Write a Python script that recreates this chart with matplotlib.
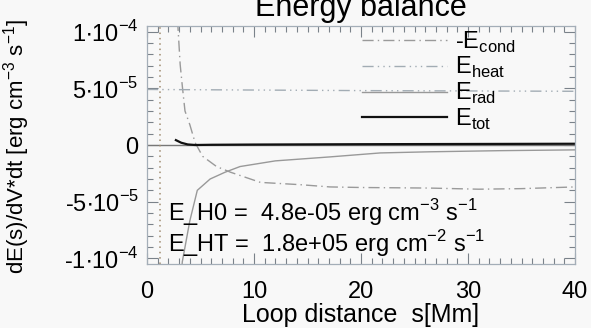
import numpy as np
import matplotlib
matplotlib.use('Agg')
import matplotlib.pyplot as plt
from matplotlib.ticker import MultipleLocator, FixedLocator, FixedFormatter

plt.rcParams['font.family'] = ['Liberation Sans', 'DejaVu Sans']
plt.rcParams['mathtext.fontset'] = 'custom'
plt.rcParams['mathtext.rm'] = 'Liberation Sans'

# values (s in Mm, energies in erg cm^-3 s^-1)
s_cond = [2.7, 2.9, 3.1, 3.3, 3.55, 4.0, 4.5, 5.2, 6.5, 7.8, 10.6, 14.3, 17.1, 20.0, 26.4, 31.0, 35.0, 40.0]
e_cond = [1.4e-4, 1.03e-4, 7.1e-5, 5.2e-5, 3.0e-5, 1.8e-5, 2.0e-6, -1.0e-5, -1.9e-5, -2.4e-5,
          -3.3e-5, -3.5e-5, -3.7e-5, -3.75e-5, -3.8e-5, -3.9e-5, -3.85e-5, -3.7e-5]

s_heat = [0.0, 10.0, 20.0, 30.0, 40.0]
e_heat = [4.9e-5, 4.85e-5, 4.8e-5, 4.77e-5, 4.74e-5]

s_rad = [3.2, 3.3, 4.0, 4.7, 5.9, 7.3, 8.7, 12.0, 17.1, 21.8, 26.4, 33.0, 40.0]
e_rad = [-1.15e-4, -1.03e-4, -6.7e-5, -4.0e-5, -3.0e-5, -2.4e-5, -1.9e-5, -1.4e-5,
         -1.05e-5, -7.0e-6, -6.0e-6, -5.0e-6, -4.3e-6]

s_tot = [2.7, 3.2, 3.8, 4.5, 6.0, 10.0, 20.0, 30.0, 40.0]
e_tot = [4.3e-6, 2.0e-6, 5.0e-7, 0.0, 2.0e-7, 4.0e-7, 7.0e-7, 9.0e-7, 1.1e-6]

s_mark = 1.2

ytick_vals = [-1e-4, -5e-5, 0, 5e-5, 1e-4]
ytick_labels = [r'-1$\bullet$10$^{-4}$', r'-5$\bullet$10$^{-5}$', '0',
                r'5$\bullet$10$^{-5}$', r'1$\bullet$10$^{-4}$']

bg = '#f8f8f8'
fig = plt.figure(figsize=(5.91, 3.28), dpi=100, facecolor=bg)
ax = fig.add_axes([147/591, 64/328, 428/591, 238/328], facecolor=bg)

ax.axhline(0, color='#777777', lw=1.0)
ax.axvline(s_mark, color='#a08c70', lw=1.1, ls=(0, (1, 2.5)))

l1, = ax.plot(s_cond, e_cond, color='#9a9a9a', lw=1.0, ls=(0, (8, 3, 1, 3)), label=r'-E$_{\mathregular{cond}}$')
l2, = ax.plot(s_heat, e_heat, color='#a2acb4', lw=1.0, ls=(0, (8, 3, 1, 3, 1, 3, 1, 3)), label=r'E$_{\mathregular{heat}}$')
l3, = ax.plot(s_rad, e_rad, color='#999999', lw=1.0, label=r'E$_{\mathregular{rad}}$')
l4, = ax.plot(s_tot, e_tot, color='#111111', lw=1.6, label=r'E$_{\mathregular{tot}}$')

ax.set_xlim(0, 40)
ax.set_ylim(-1.05e-4, 1.05e-4)
ax.xaxis.set_major_locator(MultipleLocator(10))
ax.xaxis.set_minor_locator(MultipleLocator(1))
ax.yaxis.set_major_locator(FixedLocator(ytick_vals))
ax.yaxis.set_major_formatter(FixedFormatter(ytick_labels))
ax.yaxis.set_minor_locator(MultipleLocator(1e-5))
ax.tick_params(which='both', direction='in', top=True, right=True, color='#7a828a')
ax.tick_params(which='major', length=8, width=0.8)
ax.tick_params(which='minor', length=4, width=0.8)
ax.tick_params(axis='x', labelsize=17, pad=12)
ax.tick_params(axis='y', labelsize=17, pad=6)
for sp in ax.spines.values():
    sp.set_color('#a4aeb8')
    sp.set_linewidth(0.9)

ax.set_xlabel('Loop distance  s[Mm]', fontsize=18, labelpad=0.5)
fig.text(17/591, 0.555, r'dE(s)/dV*dt [erg cm$^{-3}$ s$^{-1}$]', fontsize=16,
         rotation=90, ha='center', va='center')
fig.text(361/591, 1 - 16/328, 'Energy balance', fontsize=22, ha='center', va='baseline')

ax.text(0.05, 0.05, 'E_H0 =  4.8e-05 erg cm$^{-3}$ s$^{-1}$\n'
        'E_HT =  1.8e+05 erg cm$^{-2}$ s$^{-1}$', transform=ax.transAxes,
        fontsize=17, va='baseline', linespacing=1.0)

ax.legend(handles=[l1, l2, l3, l4], loc='upper left', bbox_to_anchor=(0.502, 0.985),
          frameon=False, fontsize=17, handlelength=3.6, handletextpad=0.35,
          labelspacing=0.02, borderaxespad=0, borderpad=0)

plt.savefig('out.png', dpi=100, facecolor=bg)
